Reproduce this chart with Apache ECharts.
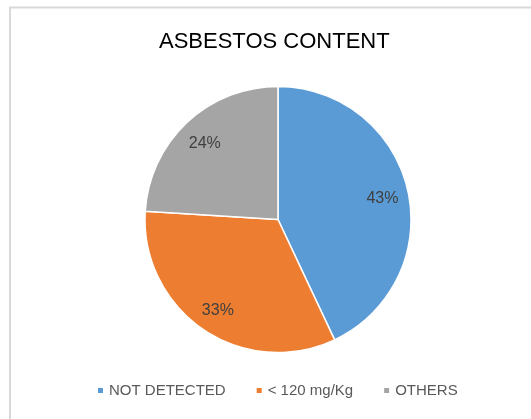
<!DOCTYPE html>
<html><head><meta charset="utf-8">
<script src="https://cdn.jsdelivr.net/npm/echarts@6/dist/echarts.min.js"></script>
<style>html,body{margin:0;padding:0;background:#fff}#c{width:531px;height:419px}</style>
</head><body><div id="c"></div>
<script>
const categories = ['NOT DETECTED', '< 120 mg/Kg', 'OTHERS'];
const values = [43, 33, 24];
const colors = ['#5B9BD5', '#ED7D31', '#A5A5A5'];
const titleText = 'ASBESTOS CONTENT';

const chart = echarts.init(document.getElementById('c'), null, {renderer: 'canvas'});
const data = categories.map((n, i) => ({name: n, value: values[i], itemStyle: {color: colors[i]}}));
chart.setOption({
  animation: false,
  backgroundColor: '#fff',
  graphic: [{
    type: 'rect', shape: {x: 10, y: 7.5, width: 560, height: 440},
    style: {fill: 'none', stroke: '#d9d9d9', lineWidth: 2}, silent: true, z: -1
  }],
  title: {
    text: titleText, left: 154, top: 26,
    textStyle: {fontFamily: 'Liberation Sans', fontSize: 22, fontWeight: 'normal', color: '#000'}
  },
  legend: {
    bottom: 16, left: 91, itemWidth: 7, itemHeight: 7, itemGap: 29, icon: 'rect',
    textStyle: {fontFamily: 'Liberation Sans', fontSize: 15, color: '#595959'},
    data: categories
  },
  series: [{
    type: 'pie', center: [278, 219.5], radius: [0, 133], startAngle: 90, clockwise: true,
    data: data,
    itemStyle: {borderColor: '#fff', borderWidth: 1.5},
    label: {show: false}, labelLine: {show: false}
  }, {
    type: 'pie', center: [278, 222], radius: [74, 134], startAngle: 90, clockwise: true,
    silent: true, legendHoverLink: false,
    data: categories.map((n, i) => ({name: n, value: values[i], itemStyle: {color: 'rgba(0,0,0,0)'}})),
    label: {show: true, position: 'inside', formatter: '{c}%',
      fontFamily: 'Liberation Sans', fontSize: 16, color: '#404040'},
    labelLine: {show: false}
  }]
});
</script></body></html>
